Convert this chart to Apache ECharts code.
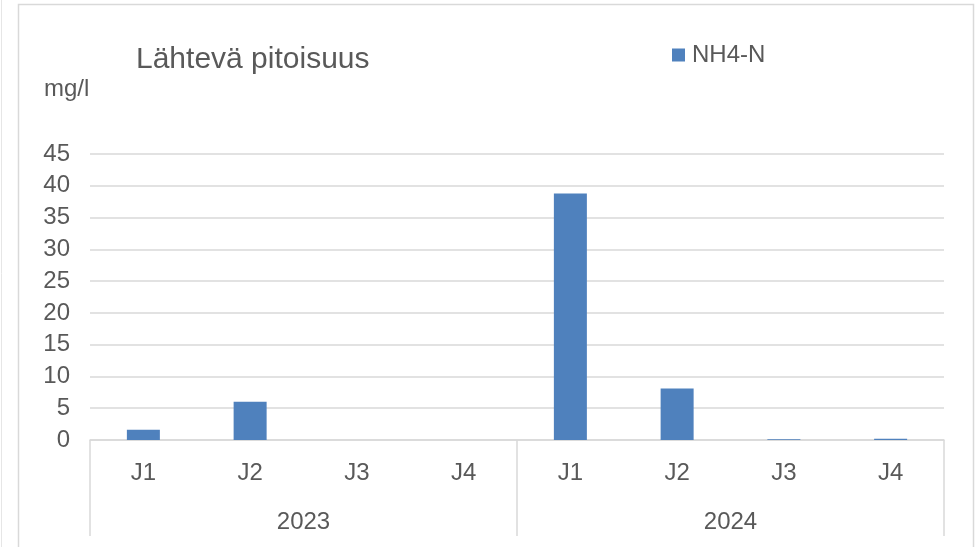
<!DOCTYPE html>
<html>
<head>
<meta charset="utf-8">
<script src="https://cdn.jsdelivr.net/npm/echarts@6/dist/echarts.min.js"></script>
<style>
  html,body{margin:0;padding:0;background:#fff;}
  #chart{width:976px;height:547px;}
</style>
</head>
<body>
<div id="chart"></div>
<script>
// kvartaalit ja vuodet
var quarters = ['J1', 'J2', 'J3', 'J4', 'J1', 'J2', 'J3', 'J4'];
var years = ['2023', '2024'];
// NH4-N mg/l
var nh4n = [1.6, 6.0, 0, 0, 38.8, 8.1, 0.1, 0.2];

var txt = '#595959';
var grid = '#d9d9d9';
var font = 'Liberation Sans, Arial, sans-serif';

var chart = echarts.init(document.getElementById('chart'));
chart.setOption({
  backgroundColor: '#fff',
  textStyle: { fontFamily: font },
  title: {
    text: 'Lähtevä pitoisuus',
    left: 131,
    top: 40,
    textStyle: { fontSize: 30, fontWeight: 'normal', color: txt, fontFamily: font }
  },
  legend: {
    data: ['NH4-N'],
    left: 667,
    top: 38,
    itemWidth: 13,
    itemHeight: 13,
    icon: 'rect',
    textStyle: { fontSize: 24, color: txt, fontFamily: font, padding: [0, 0, 0, 2] }
  },
  graphic: [
    { type: 'rect', shape: { x: 18.5, y: 4.5, width: 955, height: 560 }, style: { fill: 'none', stroke: grid, lineWidth: 1.5 } },
    { type: 'line', shape: { x1: 1.5, y1: 0, x2: 1.5, y2: 547 }, style: { stroke: '#e6e6e6', lineWidth: 1 } },
    { type: 'text', left: 44, top: 77, style: { text: 'mg/l', fontSize: 24, fill: txt, fontFamily: font } }
  ],
  grid: { left: 90, right: 32, top: 154, bottom: 107, containLabel: false },
  xAxis: [
    {
      type: 'category',
      data: quarters,
      position: 'bottom',
      axisLine: { show: true, lineStyle: { color: grid, width: 1.5 } },
      axisTick: { show: false },
      axisLabel: { fontSize: 24, color: txt, margin: 21, fontFamily: font }
    },
    {
      type: 'category',
      data: years,
      position: 'bottom',
      axisLine: { show: false },
      axisTick: { show: true, length: 96, interval: 0, lineStyle: { color: grid, width: 1.5 } },
      axisLabel: { fontSize: 24, color: txt, margin: 70, fontFamily: font },
      splitLine: { show: false }
    }
  ],
  yAxis: {
    type: 'value',
    min: 0,
    max: 45,
    interval: 5,
    axisLine: { show: false },
    axisTick: { show: false },
    axisLabel: { fontSize: 24, color: txt, margin: 20, fontFamily: font },
    splitLine: { lineStyle: { color: grid, width: 1.5 } }
  },
  series: [
    {
      name: 'NH4-N',
      type: 'bar',
      xAxisIndex: 0,
      data: nh4n,
      barWidth: 33,
      itemStyle: { color: '#4f81bd' }
    }
  ]
});
</script>
</body>
</html>
